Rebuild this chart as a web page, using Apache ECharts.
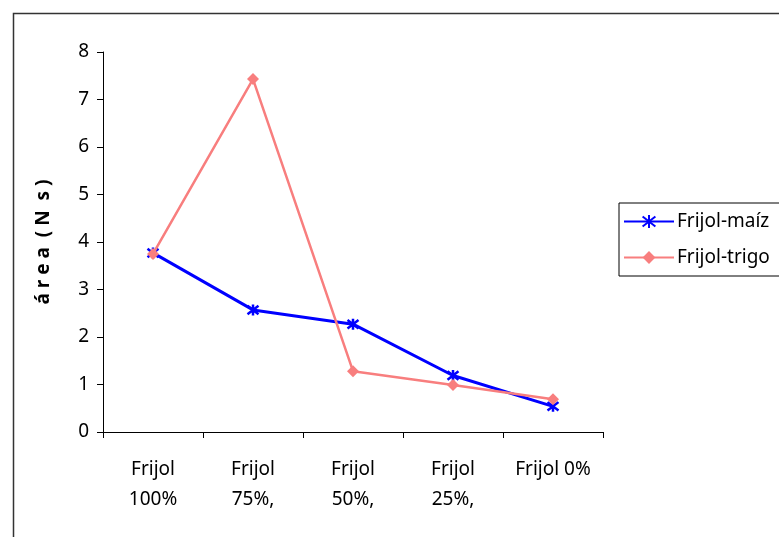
<!DOCTYPE html>
<html>
<head>
<meta charset="utf-8">
<script src="https://cdn.jsdelivr.net/npm/echarts@6/dist/echarts.min.js"></script>
<style>
html,body{margin:0;padding:0;background:#fff;}
#chart{width:779px;height:537px;}
</style>
</head>
<body>
<div id="chart"></div>
<script>
var categories = ['Frijol\n100%', 'Frijol\n75%,', 'Frijol\n50%,', 'Frijol\n25%,', 'Frijol 0%'];
var maizValues = [3.77, 2.57, 2.27, 1.19, 0.54];
var trigoValues = [3.75, 7.43, 1.28, 0.99, 0.69];
var yTicks = [0, 1, 2, 3, 4, 5, 6, 7, 8];

var FONT = 'Noto Sans';
var asterisk = 'path://M-1,-1L1,1M-1,1L1,-1M0,-1.3L0,1.3';

var chart = echarts.init(document.getElementById('chart'));
chart.setOption({
  animation: false,
  backgroundColor: '#fff',
  textStyle: {fontFamily: FONT},
  graphic: [{
    type: 'rect', left: 11, top: 11,
    shape: {x: 0, y: 0, width: 800, height: 600},
    style: {fill: 'none', stroke: '#333', lineWidth: 1.5},
    silent: true, z: -1
  }],
  grid: {left: 103, top: 52, right: 176, bottom: 105, containLabel: false},
  legend: {
    orient: 'vertical',
    left: 619, top: 203,
    borderColor: '#000', borderWidth: 1,
    padding: [9, 40, 9, 4],
    itemWidth: 50, itemHeight: 16, itemGap: 17,
    textStyle: {fontFamily: FONT, fontSize: 19, color: '#000', padding: [0, 0, 0, -2]},
    data: ['Frijol-maíz', 'Frijol-trigo']
  },
  xAxis: {
    type: 'category',
    data: categories,
    boundaryGap: true,
    axisLine: {lineStyle: {color: '#000', width: 1}},
    axisTick: {show: true, inside: false, length: 6, alignWithLabel: false, lineStyle: {color: '#000'}},
    axisLabel: {color: '#000', fontFamily: FONT, fontSize: 19, lineHeight: 30, margin: 23, interval: 0}
  },
  yAxis: {
    type: 'value',
    min: 0, max: 8, interval: 1,
    name: 'á r e a  ( N  s )',
    nameLocation: 'middle',
    nameGap: 50,
    nameTextStyle: {color: '#000', fontFamily: FONT, fontSize: 19, fontWeight: 'bold'},
    axisLine: {show: true, lineStyle: {color: '#000', width: 1}},
    axisTick: {show: true, inside: false, length: 6, lineStyle: {color: '#000'}},
    splitLine: {show: false},
    axisLabel: {color: '#000', fontFamily: FONT, fontSize: 19, margin: 14,
      formatter: function (v) { return yTicks.indexOf(v) >= 0 ? String(v) : ''; }}
  },
  series: [{
    name: 'Frijol-maíz',
    type: 'line',
    data: maizValues,
    symbol: asterisk,
    symbolSize: 11,
    lineStyle: {color: '#0000FF', width: 3},
    itemStyle: {color: '#0000FF', borderColor: '#0000FF', borderWidth: 2.5},
    z: 2
  }, {
    name: 'Frijol-trigo',
    type: 'line',
    data: trigoValues,
    symbol: 'diamond',
    symbolSize: 12,
    lineStyle: {color: '#F87E7E', width: 2.5},
    itemStyle: {color: '#F87E7E'},
    z: 3
  }]
});
</script>
</body>
</html>
